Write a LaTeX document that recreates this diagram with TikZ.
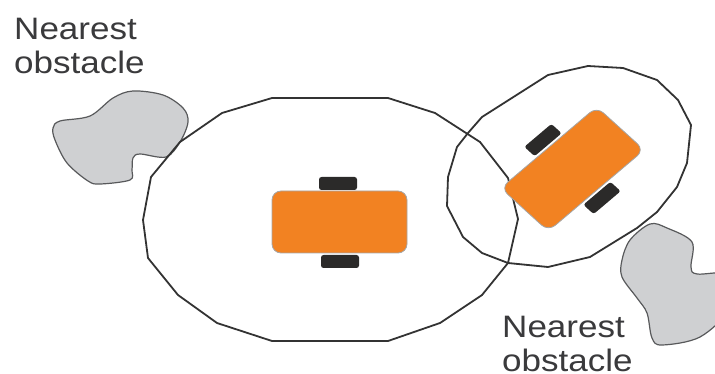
\documentclass[tikz,border=0pt]{standalone}
\usepackage{fontspec}
\setmainfont{Liberation Sans}
\definecolor{cOrange}{HTML}{F28222}
\definecolor{cWheel}{HTML}{2B2A29}
\definecolor{cBlob}{HTML}{CFD0D2}
\definecolor{cEdge}{HTML}{58595B}
\definecolor{cLine}{HTML}{333333}
\definecolor{cText}{HTML}{3A3A3C}
\tikzset{
  rangeline/.style={line width=1.8pt, cLine, line join=round},
  obstacle/.style={line width=1.2pt, cEdge, fill=cBlob},
  robotbody/.style={fill=cOrange, draw=gray!70, line width=0.8pt, rounded corners=9pt},
  robotwheel/.style={fill=cWheel, rounded corners=2.5pt},
  caption/.style={font=\fontsize{31}{34}\selectfont, text=cText, align=left, inner sep=0pt,
    anchor=north west, xscale=1.13, transform shape}
}
\begin{document}
\begin{tikzpicture}[x=1pt, y=-1pt]
    \useasboundingbox (0,0) rectangle (715,374);
    \clip (0,0) rectangle (715,374);
    % obstacles
    \draw[obstacle] plot[smooth cycle, tension=0.55] coordinates {
      (53,128) (60,121) (90,116) (113,98) (133,91) (163,95) (183,108) (188,122)
      (180,142) (166,157) (140,154) (133,158) (132,170) (130,180) (100,184)
      (88,181) (67,163) (55,140)};
    \draw[obstacle] plot[smooth cycle, tension=0.55] coordinates {
      (650,224) (667,228) (692,242) (691,267) (697,274) (730,275) (730,308)
      (700,337) (662,345) (652,338) (647,313) (637,298) (622,277) (622,260) (630,240)};
    % ranges
    \draw[rangeline] (272,98) -- (388,98) -- (435,113) -- (480,142) -- (508,178)
      -- (518,219) -- (508,263) -- (482,295) -- (440,323) -- (388,341) -- (272,341)
      -- (217,323) -- (178,295) -- (148,258) -- (143,220) -- (151,177) -- (180,142)
      -- (222,113) -- cycle;
    \draw[rangeline] (548,75) -- (588,66) -- (623,68) -- (657,80) -- (678,100)
      -- (691,125) -- (687,163) -- (677,187) -- (657,212) -- (637,228) -- (590,257)
      -- (548,267) -- (508,263) -- (482,253) -- (463,237) -- (447,206) -- (448,177)
      -- (457,147) -- (468,133) -- (482,117) -- cycle;
    % robot in front
    \fill[robotwheel] (319,177) rectangle (357,190);
    \fill[robotwheel] (321,255) rectangle (359,268);
    \draw[robotbody] (272,191) rectangle (407,253);
    % robot turned
    \begin{scope}[shift={(572.5,169)}, xscale=1.14, rotate=44]
      \fill[robotwheel] (-15,-45.3) rectangle (18,-32.3);
      \fill[robotwheel] (-18,32.3) rectangle (15,45.3);
      \draw[robotbody] (-58.5,-30) rectangle (58.5,30);
    \end{scope}
    % labels
    \node[caption] (nearestA) at (14,18) {Nearest\\obstacle};
    \node[caption] (nearestB) at (502,316) {Nearest\\obstacle};
\end{tikzpicture}
\end{document}
